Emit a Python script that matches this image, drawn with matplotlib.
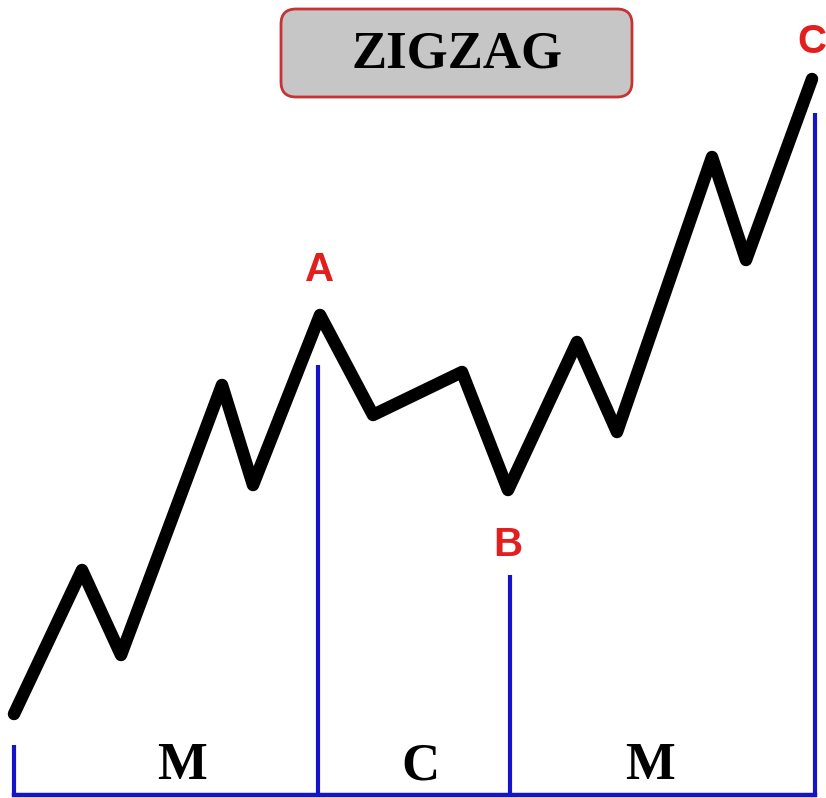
import matplotlib
matplotlib.use("Agg")
from matplotlib import pyplot as plt
from matplotlib.patches import FancyBboxPatch

# zigzag turning points, in picture pixels (x right, y down)
wave_x = [14, 82, 121, 222, 253, 320, 373, 462, 508, 577, 617, 712, 746, 812]
wave_y = [714, 570, 655, 385, 485, 315, 415, 372, 490, 342, 432, 157, 260, 79]

# blue markers: x position and top of each vertical line
mark_x = [14, 318, 510, 815]
mark_top = [745, 365, 575, 113]
base_y = 795

# wave labels (red) and segment labels (black)
point_names = ["A", "B", "C"]
point_x = [320, 508, 812]
point_y = [270, 545, 42]

seg_names = ["M", "C", "M"]
seg_x = [182, 420, 650]
seg_y = 766

title = "ZIGZAG"

fig = plt.figure(figsize=(8.26, 7.98), dpi=100)
ax = fig.add_axes([0, 0, 1, 1])
ax.set_xlim(0, 826)
ax.set_ylim(798, 0)
ax.axis("off")

blue = "#1414c8"
for x, top in zip(mark_x, mark_top):
    ax.plot([x, x], [top, base_y], color=blue, lw=3, solid_capstyle="butt")
ax.plot([mark_x[0], mark_x[-1]], [base_y, base_y], color=blue, lw=3.2)

ax.plot(wave_x, wave_y, color="black", lw=9, solid_capstyle="round",
        solid_joinstyle="round")

red = "#e31e1e"
for name, x, y in zip(point_names, point_x, point_y):
    ax.text(x, y, name, color=red, fontsize=29, fontweight="bold",
            family="Liberation Sans", ha="center", va="center")

for name, x in zip(seg_names, seg_x):
    ax.text(x, seg_y, name, color="black", fontsize=38, fontweight="bold",
            family="Liberation Serif", ha="center", va="center")

box = FancyBboxPatch((281, 9), 351, 88, boxstyle="round,pad=0,rounding_size=15",
                     facecolor="#c6c6c6", edgecolor="#c83232", lw=2)
ax.add_patch(box)
ax.text(457, 55, title, color="black", fontsize=38, fontweight="bold",
        family="Liberation Serif", ha="center", va="center")

fig.savefig("out.png", dpi=100)
